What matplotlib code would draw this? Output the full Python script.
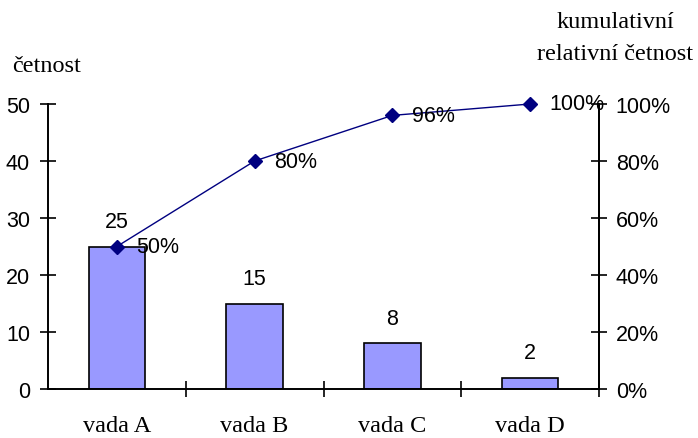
import matplotlib
matplotlib.use("Agg")
import matplotlib.pyplot as plt
from matplotlib.ticker import FixedLocator, FuncFormatter

categories = ["vada A", "vada B", "vada C", "vada D"]
counts = [25, 15, 8, 2]
cum_pct = [50, 80, 96, 100]
left_ticks = [0, 10, 20, 30, 40, 50]
right_ticks = [0, 20, 40, 60, 80, 100]

sans = "Liberation Sans"
serif = "Liberation Serif"
num_fs = 15.5
ser_fs = 17.5

fig = plt.figure(figsize=(6.98, 4.39), dpi=100)
ax = fig.add_axes([48/698, 49/439, 551/698, 285/439])
x = list(range(len(categories)))

ax.bar(x, counts, width=0.41, color="#9999FF", edgecolor="black", linewidth=1.2, zorder=2)
ax.set_xlim(-0.5, len(categories) - 0.5)
ax.set_ylim(0, 50)
ax.set_yticks(left_ticks)
for lab in ax.get_yticklabels():
    lab.set_fontfamily(sans)
ax.tick_params(axis="y", direction="inout", length=12, width=1.2, labelsize=num_fs, pad=7)

# category boundary ticks, labels at centres
ax.xaxis.set_major_locator(FixedLocator([i + 0.5 for i in range(len(categories))]))
ax.xaxis.set_major_formatter(FuncFormatter(lambda v, p: ""))
ax.xaxis.set_minor_locator(FixedLocator(x))
ax.set_xticklabels(categories, minor=True, fontfamily=serif, fontsize=ser_fs)
ax.tick_params(axis="x", which="major", direction="inout", length=12, width=1.2)
ax.tick_params(axis="x", which="minor", length=0, pad=19)

ax.spines["top"].set_visible(False)
for s in ["left", "bottom", "right"]:
    ax.spines[s].set_linewidth(1.4)

for xi, c in zip(x, counts):
    ax.annotate(str(c), (xi, c), xytext=(0, 18), textcoords="offset points",
                ha="center", va="center", fontsize=num_fs, fontfamily=sans)

ax2 = ax.twinx()
ax2.set_ylim(0, 100)
ax2.set_yticks(right_ticks)
ax2.yaxis.set_major_formatter(FuncFormatter(lambda v, p: f"{int(v)}%"))
for lab in ax2.get_yticklabels():
    lab.set_fontfamily(sans)
ax2.tick_params(axis="y", direction="inout", length=12, width=1.2, labelsize=num_fs, pad=6)
for s in ["top", "left", "bottom"]:
    ax2.spines[s].set_visible(False)
ax2.spines["right"].set_linewidth(1.4)

ax2.plot(x, cum_pct, color="#000080", linewidth=1, marker="D", markersize=7, zorder=3,
         clip_on=False)
for xi, p in zip(x, cum_pct):
    ax2.annotate(f"{p}%", (xi, p), xytext=(14, 0), textcoords="offset points",
                 ha="left", va="center", fontsize=num_fs, fontfamily=sans)

fig.text(12/698, 1 - 66/439, "četnost", fontfamily=serif, fontsize=ser_fs, ha="left", va="center")
fig.text(615/698, 1 - 22/439, "kumulativní", fontfamily=serif, fontsize=ser_fs,
         ha="center", va="center")
fig.text(615/698, 1 - 55/439, "relativní četnost", fontfamily=serif, fontsize=ser_fs,
         ha="center", va="center")

fig.savefig("out.png", dpi=100)
